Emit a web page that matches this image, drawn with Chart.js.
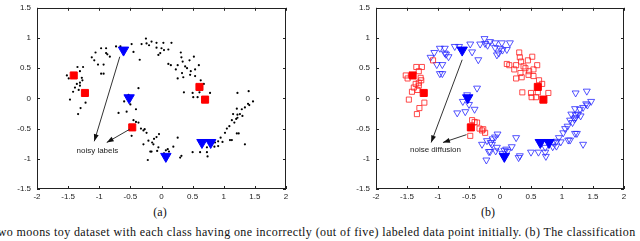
<!DOCTYPE html>
<html>
<head>
<meta charset="utf-8">
<script src="https://cdn.jsdelivr.net/npm/chart.js@4.4.0/dist/chart.umd.min.js"></script>
<style>
  html, body { margin: 0; padding: 0; background: #fff; overflow: hidden; }
  body { width: 640px; height: 241px; position: relative; }
  canvas { position: absolute; }
  .sub { position: absolute; top: 205px; width: 40px; margin-left: -20px; text-align: center;
         font: 12px "Liberation Serif", "DejaVu Serif", serif; color: #111; }
  .cap { position: absolute; left: -6px; top: 225px; white-space: nowrap; letter-spacing: 0.4px;
         font: 12px "Liberation Serif", "DejaVu Serif", serif; color: #111; }
</style>
</head>
<body>
<canvas id="plotA" width="320" height="208" style="left:0;top:-3px"></canvas>
<canvas id="plotB" width="301" height="208" style="left:339px;top:-3px"></canvas>
<div class="sub" style="left:160px">(a)</div>
<div class="sub" style="left:488px">(b)</div>
<div class="cap">two moons toy dataset with each class having one incorrectly (out of five) labeled data point initially. (b) The classification</div>
<script>
// two moons points, grouped by the class shown in (b)
var squarePts = [
  [-1.52, 0.38], [-1.49, 0.33], [-1.35, 0.52], [-1.26, 0.52], [-1.31, 0.45], [-1.28, 0.34],
  [-1.31, 0.26], [-1.36, 0.24], [-1.31, 0.21], [-1.39, 0.18], [-1.42, 0.11], [-1.47, -0.02],
  [-1.22, -0.07], [-1.30, -0.16], [-1.34, -0.26], [-1.27, 0.30], [-1.33, 0.14], [-1.08, 0.63],
  [0.31, 0.76], [0.32, 0.68], [0.34, 0.61], [0.11, 0.57], [0.15, 0.55], [0.26, 0.55],
  [0.38, 0.53], [0.41, 0.50], [0.45, 0.63], [0.52, 0.69], [0.60, 0.55], [0.23, 0.48],
  [0.33, 0.42], [0.47, 0.45], [0.54, 0.48], [0.26, 0.33], [0.35, 0.35], [0.46, 0.39],
  [0.54, 0.37], [0.63, 0.30], [0.68, 0.24], [0.36, 0.10], [0.50, 0.09], [0.61, 0.10],
  [0.78, 0.09], [0.51, 0.02], [0.58, 0.02],
  [-0.45, -0.36], [-0.41, -0.39], [-0.37, -0.40], [-0.33, -0.50], [-0.27, -0.51],
  [-0.29, -0.53], [-0.24, -0.57], [-0.48, -0.62]
];
var trianglePts = [
  [-1.12, 0.68], [-1.06, 0.76], [-0.97, 0.83], [-0.89, 0.83], [-0.89, 0.75], [-1.02, 0.56],
  [-0.93, 0.56], [-0.97, 0.41], [-0.93, 0.41], [-0.83, 0.69], [-0.87, 0.73], [-0.73, 0.86],
  [-0.66, 0.86], [-0.48, 0.90], [-0.45, 0.77], [-0.35, 0.64], [-0.32, 0.90], [-0.25, 0.99],
  [-0.24, 0.91], [-0.20, 0.88], [-0.16, 0.94], [-0.08, 0.92], [-0.08, 0.84], [-0.05, 0.72],
  [-0.02, 0.75], [0.00, 0.83], [0.03, 0.92], [0.04, 0.80], [0.11, 0.81], [0.16, 0.92],
  [-0.53, 0.06], [-0.37, 0.17], [-0.69, -0.24], [-0.56, -0.22], [-0.41, -0.18], [-0.50, -0.10],
  [-0.60, -0.05],
  [1.22, 0.09], [1.40, 0.12], [1.47, -0.05], [1.39, -0.09], [1.34, -0.15], [1.29, -0.18],
  [1.21, -0.17], [1.26, -0.26], [1.22, -0.27], [1.15, -0.26], [1.20, -0.34], [1.30, -0.29],
  [1.22, -0.32], [1.09, -0.46], [1.05, -0.50], [1.02, -0.57], [1.21, -0.58], [1.24, -0.58],
  [1.13, -0.69], [1.10, -0.69], [0.95, -0.65], [0.98, -0.72], [0.91, -0.71], [0.86, -0.73],
  [1.34, -0.76], [0.91, -0.79], [0.85, -0.80], [1.41, -0.11], [1.17, -0.40], [1.13, -0.36],
  [0.73, -0.81], [0.73, -0.89], [0.74, -0.96], [0.62, -0.89], [0.50, -0.89], [0.32, -0.95],
  [0.30, -0.98], [0.26, -0.65], [-0.04, -0.59], [-0.08, -0.64], [-0.12, -0.67], [-0.15, -0.73],
  [-0.07, -0.87], [-0.16, -0.88], [0.12, -0.88], [0.19, -0.80], [0.04, -0.91], [0.07, -0.86],
  [-0.21, -0.70], [-0.29, -0.76], [-0.18, -0.88], [-0.22, -1.02], [-0.05, -0.81], [-0.13, -0.76],
  [0.10, -0.84]
];
// the five labeled points of each class
var labeledSquares = [[-1.41, 0.38], [-1.23, 0.09], [0.61, 0.19], [0.70, -0.02], [-0.47, -0.48]];
var labeledTriangles = [[-0.61, 0.80], [-0.52, 0.01], [0.07, -0.96], [0.65, -0.73], [0.79, -0.73]];

// annotation arrows [from, to] and text anchor
var arrowsA = [[[-0.67, 0.69], [-1.08, -0.71]], [[-0.51, -0.51], [-0.88, -0.73]]];
var noteA = { text: 'noisy labels', at: [-1.03, -0.86] };
var arrowsB = [[[-0.61, 0.64], [-1.11, -0.73]], [[-0.54, -0.60], [-0.92, -0.73]]];
var noteB = { text: 'noise diffusion', at: [-1.04, -0.85] };

var xTicks = [-2, -1.5, -1, -0.5, 0, 0.5, 1, 1.5, 2];
var yTicks = [-1.5, -1, -0.5, 0, 0.5, 1, 1.5];

var toXY = function (pts) {
  return pts.map(function (p) { return { x: p[0], y: p[1] }; });
};

// box, inward ticks and the arrow notes
var framePlugin = {
  id: 'frame',
  afterDatasetsDraw: function (chart, args, opts) {
    var ctx = chart.ctx, a = chart.chartArea;
    var sx = chart.scales.x, sy = chart.scales.y;
    ctx.save();
    ctx.strokeStyle = '#222';
    ctx.lineWidth = 1;
    ctx.strokeRect(Math.round(a.left) + 0.5, Math.round(a.top) + 0.5,
      Math.round(a.right - a.left) - 1, Math.round(a.bottom - a.top) - 1);
    ctx.beginPath();
    xTicks.forEach(function (v) {
      var px = Math.round(sx.getPixelForValue(v)) + 0.5;
      ctx.moveTo(px, a.bottom); ctx.lineTo(px, a.bottom - 3);
      ctx.moveTo(px, a.top); ctx.lineTo(px, a.top + 3);
    });
    yTicks.forEach(function (v) {
      var py = Math.round(sy.getPixelForValue(v)) + 0.5;
      ctx.moveTo(a.left, py); ctx.lineTo(a.left + 3, py);
      ctx.moveTo(a.right, py); ctx.lineTo(a.right - 3, py);
    });
    ctx.stroke();

    // arrows
    ctx.strokeStyle = '#333';
    ctx.fillStyle = '#111';
    (opts.arrows || []).forEach(function (ar) {
      var x0 = sx.getPixelForValue(ar[0][0]), y0 = sy.getPixelForValue(ar[0][1]);
      var x1 = sx.getPixelForValue(ar[1][0]), y1 = sy.getPixelForValue(ar[1][1]);
      var ang = Math.atan2(y1 - y0, x1 - x0);
      ctx.beginPath();
      ctx.moveTo(x0, y0); ctx.lineTo(x1, y1);
      ctx.stroke();
      ctx.beginPath();
      ctx.moveTo(x1, y1);
      ctx.lineTo(x1 - 7 * Math.cos(ang) + 2.5 * Math.sin(ang), y1 - 7 * Math.sin(ang) - 2.5 * Math.cos(ang));
      ctx.lineTo(x1 - 7 * Math.cos(ang) - 2.5 * Math.sin(ang), y1 - 7 * Math.sin(ang) + 2.5 * Math.cos(ang));
      ctx.closePath();
      ctx.fill();
    });
    if (opts.note) {
      ctx.fillStyle = '#222';
      ctx.font = '8px "Liberation Sans", Arial, sans-serif';
      ctx.textAlign = 'center';
      ctx.textBaseline = 'middle';
      ctx.fillText(opts.note.text, sx.getPixelForValue(opts.note.at[0]), sy.getPixelForValue(opts.note.at[1]));
    }
    ctx.restore();
  }
};

var tickFont = { family: '"Liberation Sans", Arial, sans-serif', size: 8 };

var makeOptions = function (rightPad, arrows, note) {
  return {
    responsive: false,
    animation: false,
    layout: { padding: { left: 0, top: 6, right: rightPad, bottom: 0 } },
    plugins: {
      legend: { display: false },
      tooltip: { enabled: false },
      frame: { arrows: arrows, note: note }
    },
    scales: {
      x: {
        type: 'linear', min: -2, max: 2,
        grid: { display: false, drawTicks: false },
        border: { display: false },
        ticks: {
          stepSize: 0.5, autoSkip: false, maxRotation: 0, padding: 3,
          color: '#222', font: tickFont,
          callback: function (v) { return String(v); }
        },
        afterFit: function (s) { s.height = 16; }
      },
      y: {
        type: 'linear', min: -1.5, max: 1.5,
        grid: { display: false, drawTicks: false },
        border: { display: false },
        ticks: {
          stepSize: 0.5, autoSkip: false, padding: 6,
          color: '#222', font: tickFont,
          callback: function (v) { return String(v); }
        },
        afterFit: function (s) { s.width = 37; }
      }
    }
  };
};

var filledSquares = {
  data: toXY(labeledSquares), pointStyle: 'rect', pointRadius: 5,
  backgroundColor: '#ff0000', borderColor: '#ff0000', borderWidth: 1
};
var filledTriangles = {
  data: toXY(labeledTriangles), pointStyle: 'triangle', rotation: 180, pointRadius: 6,
  backgroundColor: '#0000ff', borderColor: '#0000ff', borderWidth: 1
};

// (a): all unlabeled points as black dots
new Chart(document.getElementById('plotA'), {
  type: 'scatter',
  data: {
    datasets: [
      Object.assign({}, filledSquares),
      Object.assign({}, filledTriangles),
      {
        data: toXY(squarePts.concat(trianglePts)), pointStyle: 'circle', pointRadius: 1.1,
        backgroundColor: '#000', borderWidth: 0
      }
    ]
  },
  options: makeOptions(34, arrowsA, noteA),
  plugins: [framePlugin]
});

// (b): points coloured by the diffused labels
new Chart(document.getElementById('plotB'), {
  type: 'scatter',
  data: {
    datasets: [
      Object.assign({}, filledSquares),
      Object.assign({}, filledTriangles),
      {
        data: toXY(squarePts), pointStyle: 'rect', pointRadius: 3.6,
        backgroundColor: 'rgba(0,0,0,0)', borderColor: 'rgba(255,30,30,0.8)', borderWidth: 1
      },
      {
        data: toXY(trianglePts), pointStyle: 'triangle', rotation: 180, pointRadius: 4,
        backgroundColor: 'rgba(0,0,0,0)', borderColor: 'rgba(40,40,255,0.8)', borderWidth: 1
      }
    ]
  },
  options: makeOptions(16, arrowsB, noteB),
  plugins: [framePlugin]
});
</script>
</body>
</html>
